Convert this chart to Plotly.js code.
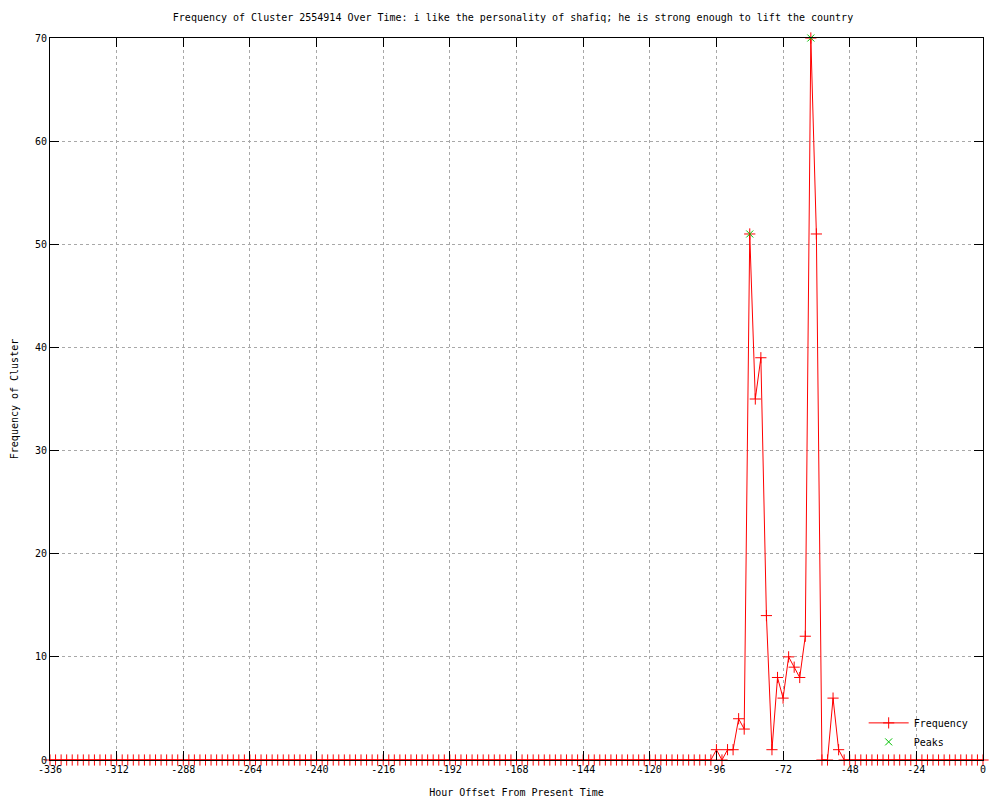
<!DOCTYPE html>
<html>
<head>
<meta charset="utf-8">
<script src="https://cdn.plot.ly/plotly-3.0.1.min.js"></script>
<style>body{margin:0;background:#fff;} #chart{width:1000px;height:800px;}</style>
</head>
<body>
<div id="chart"></div>
<script>
// Hour offsets (every 2 hours) with non-zero/notable frequencies
const activeHours = [-96, -94, -92, -90, -88, -86, -84, -82, -80, -78, -76, -74, -72, -70, -68, -66, -64, -62, -60, -58, -56, -54, -52, -50];
const activeFreq  = [  1,   0,   1,   1,   4,   3,  51,  35,  39,  14,   1,   8,   6,  10,   9,   8,  12,  70,  51,   0,   0,   6,   1,   0];
const peakHours = [-84, -62];
const peakFreq  = [51, 70];
const xTicks = [-336, -312, -288, -264, -240, -216, -192, -168, -144, -120, -96, -72, -48, -24, 0];
const yTicks = [0, 10, 20, 30, 40, 50, 60, 70];

// Full series: hours from -336 to 0 in 2-hour steps, zero where not active
const hours = [];
const freq = [];
for (let h = -336; h <= 0; h += 2) {
  hours.push(h);
  const i = activeHours.indexOf(h);
  freq.push(i >= 0 ? activeFreq[i] : 0);
}

const font = {family: 'DejaVu Sans Mono, monospace', size: 10, color: '#000'};

const traces = [
  {
    x: hours, y: freq, type: 'scatter', mode: 'lines+markers', name: 'Frequency',
    line: {color: '#ff0000', width: 1},
    marker: {symbol: 'cross-thin-open', size: 8, color: '#ff0000', line: {color: '#ff0000', width: 1}},
    cliponaxis: false
  },
  {
    x: peakHours, y: peakFreq, type: 'scatter', mode: 'markers', name: 'Peaks',
    marker: {symbol: 'x-thin-open', size: 7, color: '#00c000', line: {color: '#00c000', width: 1}},
    cliponaxis: false
  }
];

const layout = {
  width: 1000, height: 800,
  margin: {l: 50, r: 17, t: 38, b: 40},
  paper_bgcolor: '#fff', plot_bgcolor: '#fff',
  font: font,
  title: {text: 'Frequency of Cluster 2554914 Over Time: i like the personality of shafiq; he is strong enough to lift the country',
          font: font, x: 0.513, xanchor: 'center', y: 0.983, yanchor: 'top'},
  xaxis: {
    range: [-336, 0], tickvals: xTicks, ticktext: xTicks.map(String),
    showgrid: true, gridcolor: '#a8a8a8', griddash: 'dot', gridwidth: 1,
    zeroline: false, showline: true, linecolor: '#000', linewidth: 1, mirror: 'ticks',
    ticks: 'inside', ticklen: 9, tickcolor: '#000',
    title: {text: 'Hour Offset From Present Time', font: font, standoff: 14},
    tickfont: font
  },
  yaxis: {
    range: [0, 70], tickvals: yTicks,
    showgrid: true, gridcolor: '#a8a8a8', griddash: 'dot', gridwidth: 1,
    zeroline: false, showline: true, linecolor: '#000', linewidth: 1, mirror: 'ticks',
    ticks: 'inside', ticklen: 9, tickcolor: '#000',
    title: {text: 'Frequency of Cluster', font: font, standoff: 14},
    tickfont: font
  },
  legend: {x: 0.99, y: 0.005, xanchor: 'right', yanchor: 'bottom', bgcolor: 'rgba(0,0,0,0)',
           font: font, tracegroupgap: 0, itemwidth: 40},
  showlegend: true
};

Plotly.newPlot('chart', traces, layout, {displayModeBar: false, staticPlot: true});
</script>
</body>
</html>
